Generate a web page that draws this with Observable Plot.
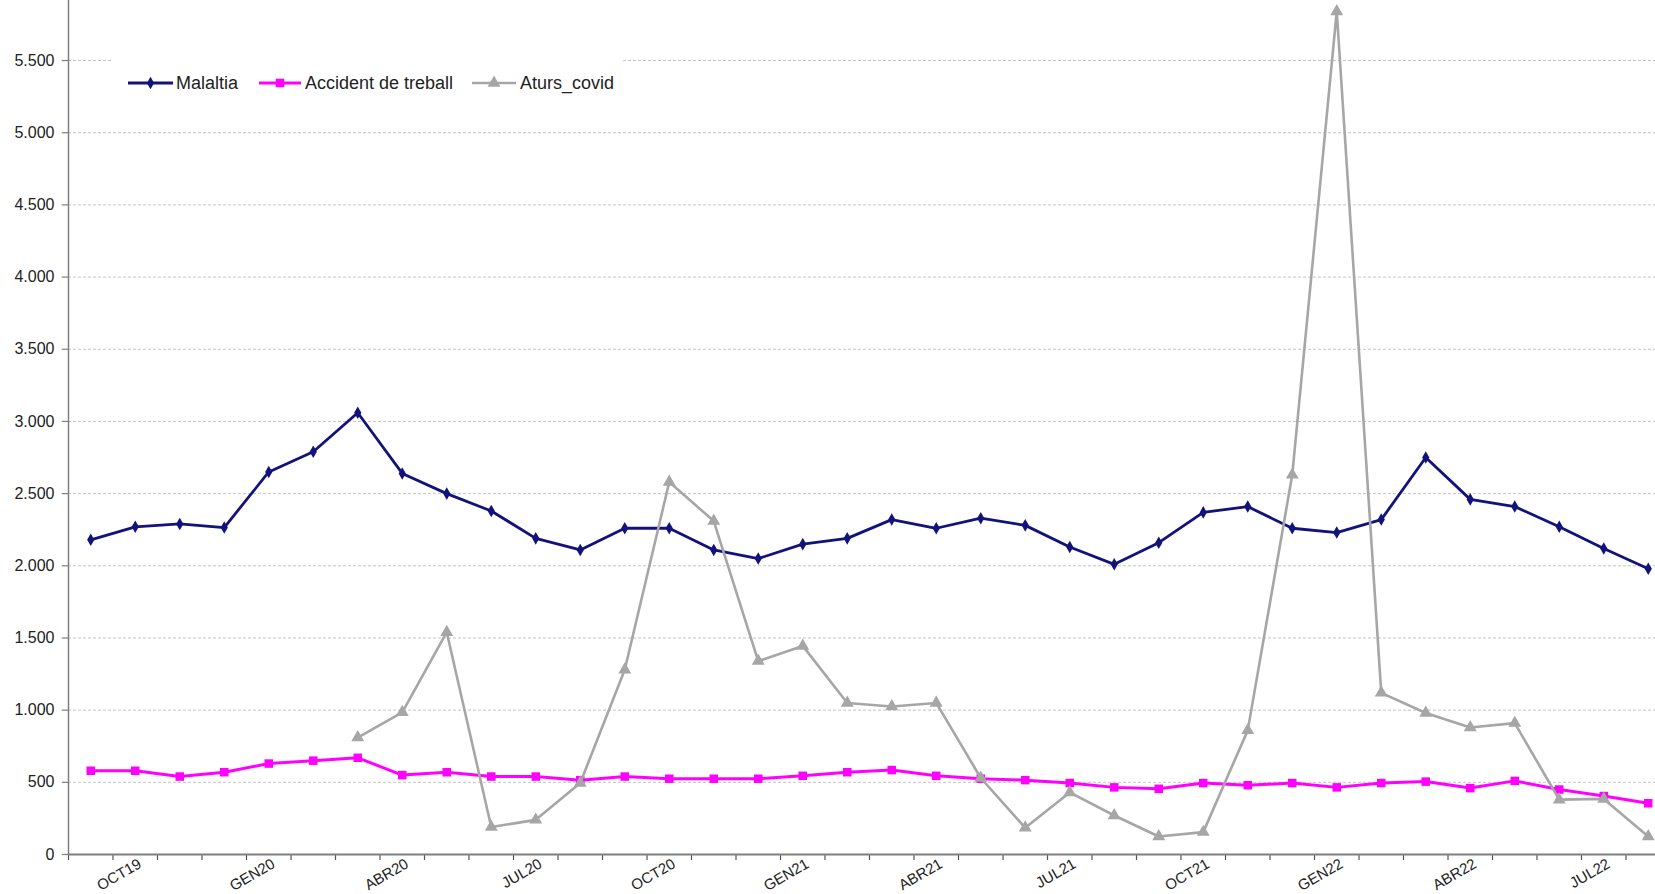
<!DOCTYPE html>
<html><head><meta charset="utf-8">
<script src="https://cdn.jsdelivr.net/npm/d3@7"></script>
<script src="https://cdn.jsdelivr.net/npm/@observablehq/plot@0.6"></script>
<style>
body{margin:0;background:#fff;overflow:hidden;font-family:"Liberation Sans",Arial,sans-serif;}
#wrap{position:relative;width:1655px;height:894px;overflow:hidden;}
#chart svg{overflow:visible;}
#legend{position:absolute;left:111px;top:45px;width:512px;height:74px;background:#fff;}
</style></head>
<body><div id="wrap"><div id="chart"></div><div id="legend"></div></div>
<script>
const months = ["SET19","OCT19","NOV19","DES19","GEN20","FEB20","MAR20","ABR20","MAI20","JUN20","JUL20","AGO20",
  "SET20","OCT20","NOV20","DES20","GEN21","FEB21","MAR21","ABR21","MAI21","JUN21","JUL21","AGO21",
  "SET21","OCT21","NOV21","DES21","GEN22","FEB22","MAR22","ABR22","MAI22","JUN22","JUL22","AGO22"];
const malaltia = [2180,2270,2290,2265,2650,2790,3060,2640,2500,2380,2190,2110,
  2260,2260,2110,2050,2150,2190,2320,2260,2330,2280,2130,2010,
  2160,2370,2410,2260,2230,2320,2750,2460,2410,2270,2120,1980];
const accident = [580,580,540,570,630,650,670,550,570,540,540,515,
  540,525,525,525,545,570,585,545,525,515,495,465,
  455,495,480,495,465,495,505,460,510,450,405,355];
const aturs = [null,null,null,null,null,null,810,985,1540,190,240,495,
  1280,2580,2310,1340,1445,1050,1025,1050,530,185,430,270,
  125,155,860,2630,5840,1120,980,880,910,380,385,125];
const yTicks = [0,500,1000,1500,2000,2500,3000,3500,4000,4500,5000,5500];
const seriesNames = ["Malaltia","Accident de treball","Aturs_covid"];
const seriesColors = ["#12127c","#ff00ff","#a6a6a6"];
const seriesSymbols = ["diamond","square","triangle"];

const seriesValues = [malaltia, accident, aturs];
const seriesWidth = [2.8, 3, 2.6];
const seriesR = [3.8, 4.8, 4.8];
const fmt = d => d3.format(",")(d).replace(/,/g, ".");
const labelIdx = months.map((m,i)=>i).filter(i => i % 3 === 1);

const seriesMarks = [];
seriesNames.forEach((s,k) => {
  const rows = seriesValues[k].map((v,i)=>({i, value:v, series:s})).filter(d=>d.value!=null);
  seriesMarks.push(Plot.line(rows, {x:"i", y:"value", stroke:seriesColors[k], strokeWidth:seriesWidth[k]}));
  seriesMarks.push(Plot.dot(rows, {x:"i", y:"value", symbol:seriesSymbols[k], fill:seriesColors[k], r:seriesR[k]}));
});

const chart = Plot.plot({
  width:1655, height:894, marginLeft:0, marginRight:0, marginTop:0, marginBottom:0,
  x:{type:"linear", domain:[-0.5,35.5], range:[68,1670], axis:null},
  y:{domain:[0,5916], range:[854,0], axis:null},
  style:{fontFamily:"Liberation Sans, Arial, sans-serif", background:"transparent", overflow:"visible"},
  marks:[
    Plot.ruleY(yTicks.filter(d=>d>0), {x1:-0.5, x2:35.5, stroke:"#c4c4c4", strokeDasharray:"3,2", strokeWidth:1}),
    Plot.ruleY(yTicks, {x1:-0.64, x2:-0.5, stroke:"#7f7f7f", strokeWidth:1.2}),
    Plot.ruleX(d3.range(-0.5,36,1), {y1:0, y2:-42, stroke:"#555", strokeWidth:1.2}),
    Plot.ruleX([-0.5], {y1:0, y2:5916, stroke:"#7f7f7f", strokeWidth:1.5}),
    Plot.ruleY([0], {x1:-0.5, x2:35.5, stroke:"#7f7f7f", strokeWidth:2}),
    Plot.text(yTicks, {x:-0.5, y:d=>d, text:fmt, dx:-14, textAnchor:"end", fontSize:16, fill:"#222"}),
    Plot.text(labelIdx, {x:d=>d, y:0, text:d=>months[d], rotate:-30, textAnchor:"end", lineAnchor:"top", dx:2, dy:3, fontSize:15, fill:"#222"}),
    ...seriesMarks
  ]
});
document.getElementById("chart").appendChild(chart);

// legend
const lx = [[17,62,65],[148,190,194],[361,405,409]];
const lsvg = d3.select("#legend").append("svg").attr("width",512).attr("height",74);
seriesNames.forEach((s,k)=>{
  const [a,b,t] = lx[k];
  lsvg.append("line").attr("x1",a).attr("x2",b).attr("y1",38).attr("y2",38)
    .attr("stroke",seriesColors[k]).attr("stroke-width",seriesWidth[k]);
  const sym = {diamond:d3.symbolDiamond, square:d3.symbolSquare, triangle:d3.symbolTriangle}[seriesSymbols[k]];
  lsvg.append("path").attr("transform",`translate(${(a+b)/2},38)`)
    .attr("d", d3.symbol(sym, Math.PI*seriesR[k]*seriesR[k])()).attr("fill",seriesColors[k]);
  lsvg.append("text").attr("x",t).attr("y",38).attr("dy","0.35em").attr("font-size",18)
    .attr("fill","#222").attr("font-family","Liberation Sans, Arial, sans-serif").text(s);
});
</script>
</body></html>
